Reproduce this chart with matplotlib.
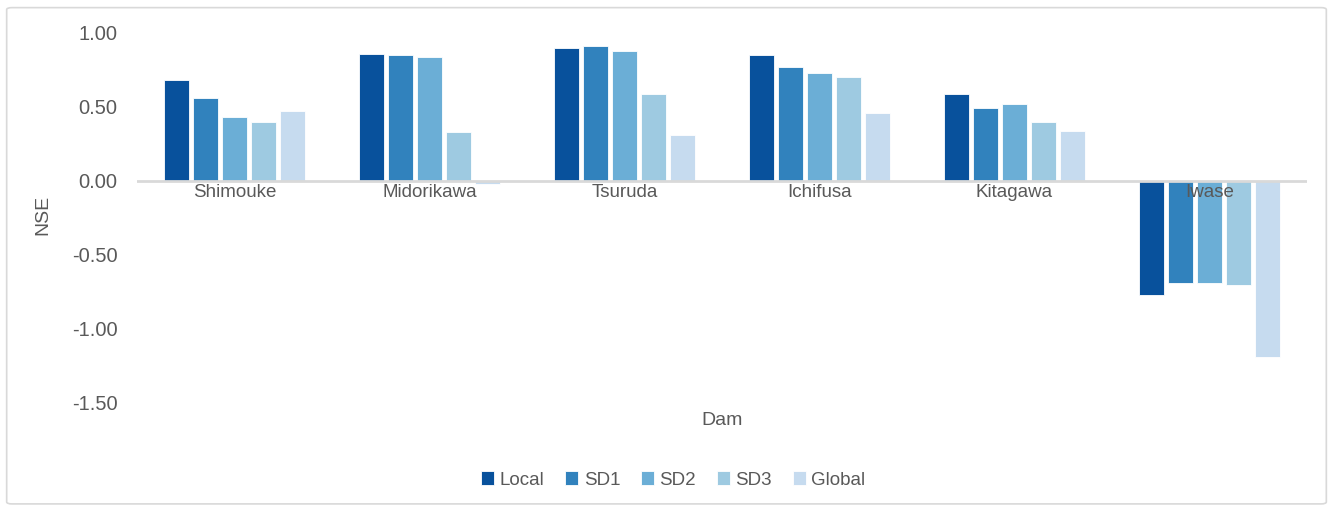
import numpy as np
import matplotlib.pyplot as plt
from matplotlib.patches import FancyBboxPatch
from matplotlib.transforms import offset_copy

plt.rcParams['font.family'] = ['Liberation Sans', 'DejaVu Sans']

dams = ['Shimouke', 'Midorikawa', 'Tsuruda', 'Ichifusa', 'Kitagawa', 'Iwase']
models = ['Local', 'SD1', 'SD2', 'SD3', 'Global']

local = [0.68, 0.86, 0.90, 0.85, 0.59, -0.77]
sd1 = [0.56, 0.85, 0.91, 0.77, 0.49, -0.69]
sd2 = [0.43, 0.84, 0.88, 0.73, 0.52, -0.69]
sd3 = [0.40, 0.33, 0.59, 0.70, 0.40, -0.70]
global_ = [0.47, -0.02, 0.31, 0.46, 0.34, -1.19]

colors = ['#08519c', '#3182bd', '#6baed6', '#9ecae1', '#c6dbef']
text_color = '#595959'

fig = plt.figure(figsize=(13.33, 5.09), dpi=100)
ax = fig.add_axes([0.1028, 0.2083, 0.8777, 0.7269])

x = np.arange(len(dams))
step = 0.148
width = 0.128
series = [local, sd1, sd2, sd3, global_]
for i, (name, vals, c) in enumerate(zip(models, series, colors)):
    ax.bar(x + (i - 2) * step, vals, width, color=c, edgecolor='white',
           linewidth=0.6, label=name, zorder=2)

ax.set_xlim(-0.5, len(dams) - 0.5)
ax.set_ylim(-1.5, 1.0)
ax.axhline(0, color='#d9d9d9', linewidth=2, zorder=3)

for s in ax.spines.values():
    s.set_visible(False)
ax.set_xticks([])
ax.set_yticks([-1.5, -1.0, -0.5, 0.0, 0.5, 1.0])
ax.set_yticklabels([f'{v:.2f}' for v in ax.get_yticks()])
ax.tick_params(axis='y', length=0, labelsize=14.5, labelcolor=text_color, pad=14)

# category names sit just under the zero line
lab_trans = offset_copy(ax.transData, fig=fig, x=0, y=-2, units='points')
for xi, name in zip(x, dams):
    ax.text(xi, 0, name, ha='center', va='top', fontsize=13.5,
            color=text_color, transform=lab_trans, zorder=4)

fig.text(0.032, 0.578, 'NSE', rotation=90, ha='center', va='center',
         fontsize=14, color=text_color)
fig.text(0.5415, 0.173, 'Dam', ha='center', va='center',
         fontsize=14, color=text_color)

fig.legend(loc='center', bbox_to_anchor=(0.505, 0.057), ncol=5, frameon=False,
           fontsize=13.5, labelcolor=text_color, handlelength=0.7, handleheight=0.7,
           handletextpad=0.3, columnspacing=1.1)

fig.patches.append(FancyBboxPatch((0.005, 0.01), 0.99, 0.975,
                                  boxstyle='round,pad=0,rounding_size=0.004',
                                  transform=fig.transFigure, fill=False,
                                  edgecolor='#d9d9d9', linewidth=1.2))

fig.savefig('out.png', dpi=100)
